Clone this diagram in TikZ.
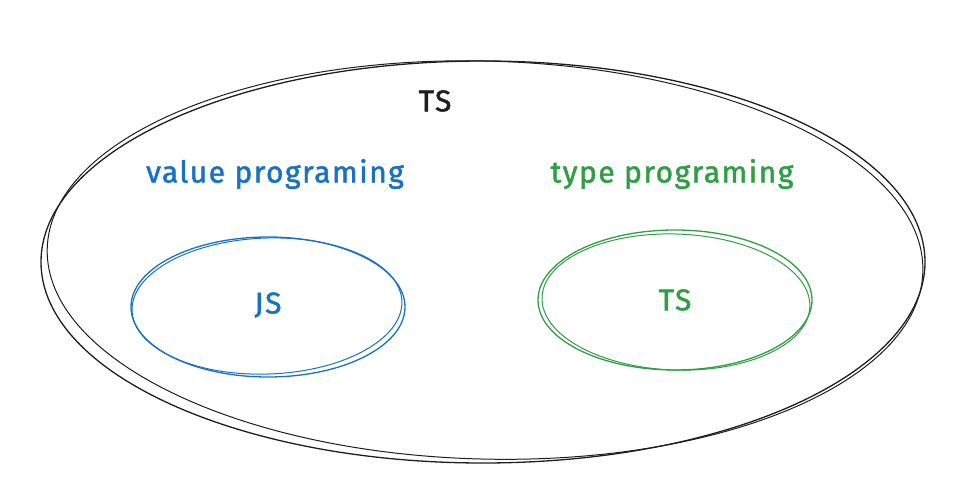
\documentclass[tikz,border=0pt]{standalone}
\usepackage{fontspec}
\setmainfont{Fira Sans}[LetterSpace=5, FakeBold=1.5]
\definecolor{inkblack}{HTML}{1E1E1E}
\definecolor{inkblue}{HTML}{1971C2}
\definecolor{inkgreen}{HTML}{2F9E44}
\tikzset{
  sketch/.style={line width=1.3pt, line cap=round},
  lbl/.style={font=\fontsize{30}{34}\selectfont, inner sep=0pt},
}
\begin{document}
\begin{tikzpicture}[x=1pt,y=-1pt]
\useasboundingbox (0,0) rectangle (966,492);
% outer ellipse (TS)
\draw[sketch, inkblack] (483,262) ellipse [x radius=442, y radius=201];
\draw[sketch, inkblack, line width=1pt, rotate around={-1.5:(483,262)}] (485,260) ellipse [x radius=438, y radius=199];
% blue ellipse (JS)
\draw[sketch, inkblue] (268,307) ellipse [x radius=137, y radius=70];
\draw[sketch, inkblue, line width=1pt, rotate around={2:(268,307)}] (267,306) ellipse [x radius=135, y radius=68];
% green ellipse (TS)
\draw[sketch, inkgreen] (675,300) ellipse [x radius=137, y radius=70];
\draw[sketch, inkgreen, line width=1pt, rotate around={-2:(675,300)}] (676,302) ellipse [x radius=134, y radius=68];
% labels
\node[lbl, text=inkblack] (outer) at (435,101) {TS};
\node[lbl, text=inkblue] (vp) at (275,174) {value programing};
\node[lbl, text=inkgreen] (tp) at (672,174) {type programing};
\node[lbl, text=inkblue] (js) at (268,305) {JS};
\node[lbl, text=inkgreen] (ts) at (675,300) {TS};
\end{tikzpicture}
\end{document}
